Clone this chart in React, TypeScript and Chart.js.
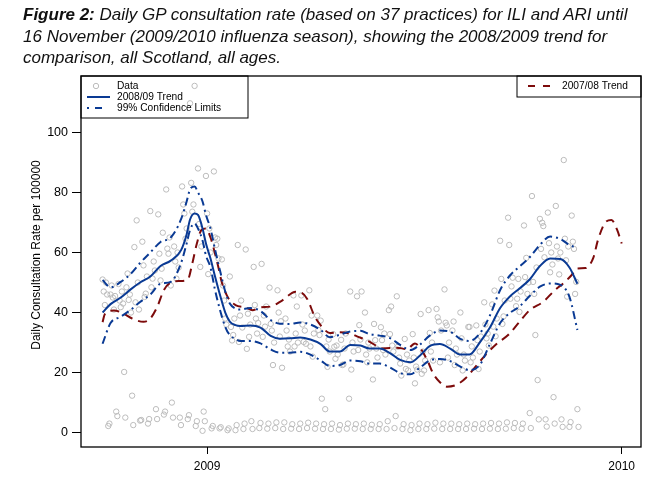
import React, { useEffect, useRef } from 'react';
import { Chart, registerables } from 'chart.js';

Chart.register(...registerables);

const SANS = '"Liberation Sans", Arial, Helvetica, sans-serif';
const BLUE = '#0a3a94';
const RED = '#7d0b0b';
const GREY = '#bcbcbc';

// day numbers count from 1 January 2009
const firstDataDay = -92;

// daily GP consultation rate per 100000, one row per week (5 weekdays, then the weekend pair)
const weeklyRates: number[][] = [
    [51, 47, 42.5, 50, 46, 2.2, 3],
    [46, 49, 45, 41, 45.5, 7, 5.5],
    [49.5, 44, 41.8, 47, 43, 20.2, 5],
    [48.4, 53, 44.2, 46, 40, 12.3, 2.5],
    [61.8, 43.4, 70.7, 50, 41, 4, 4.2],
    [63.6, 55.7, 45.2, 46.3, 52, 3, 4.5],
    [73.8, 48.4, 51.3, 57, 54, 7.8, 4.5],
    [72.7, 59.6, 50.7, 54.6, 66.6, 6, 7],
    [81, 61.3, 59.6, 65, 49, 10, 5],
    [62, 57, 51.3, 60, 55, 5, 2.5],
    [82, 76, 73, 64.6, 68, 4.5, 5.8],
    [109.7, 83.2, 73.6, 76, 115.5, 2.2, 3.8],
    [88, 69.5, 55.2, 62, 0.6, 7, 3.8],
    [85.5, 73, 52.8, 68, 60, 1.4, 2.2],
    [87, 65, 62.5, 64.6, 58, 1.4, 1.8],
    [57.7, 49, 44, 38, 36, 0.8, 1.4],
    [52, 35.2, 30.7, 32.5, 38, 0.8, 2.5],
    [62.5, 30.2, 39, 44, 35, 1.2, 3],
    [61, 27.9, 39.6, 31.9, 36, 3.8, 1.2],
    [55.2, 42.5, 38, 33, 36.5, 1.5, 3.2],
    [56.2, 31.9, 39, 35.3, 42, 1.3, 3],
    [48.3, 36.2, 34, 22.5, 30, 1.5, 3.4],
    [47.4, 40, 32, 37.1, 21.6, 1.2, 3.4],
    [38, 34, 28.7, 31, 27, 1.3, 2.8],
    [45.7, 28.7, 33, 42, 30, 1.2, 3],
    [45.7, 36, 30.2, 34, 29.6, 1.5, 3.3],
    [47.4, 28.7, 39, 25.3, 33, 1.3, 3],
    [39, 34.2, 32.5, 37.3, 11.3, 1.2, 2.8],
    [7.8, 28.7, 21.9, 31, 27, 1.2, 3],
    [32.8, 28.6, 24.6, 29, 26, 1, 2.5],
    [30.9, 22.5, 22.7, 28, 33, 1.3, 3],
    [11.3, 47, 21, 30, 27, 1.3, 2.8],
    [45.4, 27.5, 35.8, 31, 47, 1.2, 3],
    [40, 26, 23.4, 30, 28, 1.2, 2.6],
    [17.7, 36.2, 30.8, 28, 25, 1.2, 2.8],
    [35.1, 30.8, 27.5, 33, 26, 1.2, 3.8],
    [40.8, 32.8, 42, 29, 27, 1.5, 5.5],
    [45.4, 28.6, 25, 23, 19, 1.2, 2.8],
    [31.2, 21.2, 26, 20.7, 24, 0.8, 2.5],
    [32.8, 25, 16.4, 22, 21, 1.2, 3],
    [39.5, 19.6, 27, 20.7, 24, 1.2, 2.8],
    [40.8, 33.2, 27, 30, 24, 1.3, 3.3],
    [41.2, 38.4, 37, 23.4, 34, 1.2, 3],
    [47.7, 36.6, 35.7, 25, 30, 1.2, 3],
    [34, 37, 22.5, 28, 26, 1.2, 2.8],
    [40, 31.4, 20.7, 26, 24, 1.2, 3],
    [35.2, 35.2, 23.4, 28.7, 25, 1.3, 2.8],
    [35.7, 30.8, 21.2, 27, 32, 1.2, 3],
    [43.4, 36, 31.4, 33, 29, 1.3, 3.2],
    [42.7, 35.3, 47.3, 32.1, 38, 1.2, 3],
    [63.9, 51.2, 36.2, 38.7, 44, 1.3, 3.4],
    [71.6, 62.5, 44.6, 48.7, 51.6, 1.5, 3.2],
    [42.1, 44.6, 51.2, 40.2, 47, 1.3, 3],
    [69, 51.8, 58.2, 46.2, 50, 6.5, 1.5],
    [78.8, 50.2, 46.2, 32.5, 55, 17.5, 4.4],
    [71.2, 61.2, 69.9, 68.8, 58.4, 4.4, 2],
    [73.3, 63.1, 53.4, 60, 56, 11.8, 3],
    [75.5, 62, 58, 52.7, 60, 4.4, 1.9],
    [90.8, 64.6, 57.4, 45.3, 62, 1.9, 3.5],
    [72.3, 63.6, 61.2, 46.2, 50.2, 7.8, 1.9],
];

// 2008/09 smoothed trend and its 99% confidence limits
const trendDays = [
    -92, -85, -76, -67, -59, -50, -41, -32, -23, -18, -15, -11, -8, -4, -1, 3, 7, 12, 16, 20,
    25, 29, 38, 47, 56, 64, 73, 82, 91, 100, 108, 117, 126, 135, 143, 152, 161, 170, 179, 187,
    196, 205, 214, 223, 231, 240, 249, 258, 267, 275, 284, 293, 302, 311, 319, 326,
];
const trend0809 = [
    40, 42.8, 45, 47.8, 50, 52, 55.5, 57.3, 60.7, 66, 71, 73, 72.5, 68, 63, 58, 52, 45, 40, 37,
    35.8, 35.5, 35.7, 35, 32.2, 31.3, 31.4, 31.7, 31, 29.5, 27, 27, 29.2, 29, 28, 28, 26.5, 24.2, 23.4, 25.5,
    28.8, 29.5, 28, 26, 26, 30, 35, 41.5, 45.5, 48, 51, 55.5, 58, 57.8, 55, 49.6,
];
const upperLimit = [
    50.8, 48.4, 50.2, 53, 56.5, 60, 63.5, 65, 71, 77, 81, 82, 80, 77, 72.5, 68, 61, 53, 47, 43,
    41.3, 41, 41.5, 40.5, 37.5, 36.3, 36.2, 36.7, 36, 34.2, 31.8, 32.6, 33.7, 33.9, 32.8, 32.3, 31.5, 29.2, 27.5, 29.2,
    32.3, 34, 33.6, 31.2, 30.5, 33, 39, 47.5, 52.5, 55.3, 58.4, 62.5, 65.3, 64.5, 62.5, 61.5,
];
const lowerLimit = [
    29.6, 36.5, 38.6, 41, 43.5, 46, 49.6, 50.2, 56.4, 63, 67.5, 69.7, 68, 64, 59, 55, 47.5, 40, 35.2, 32.5,
    31.2, 30.5, 30.5, 29.7, 27.7, 26.6, 26.6, 26.9, 26, 24, 22.2, 22.5, 24, 23.8, 23, 23, 21.7, 19.8, 19.4, 21.5,
    24, 24.5, 23.8, 22, 20.8, 22.5, 29.5, 36.5, 40, 42, 45.5, 48.6, 49.7, 49.2, 45.2, 34.2,
];

// 2007/08 trend, for comparison
const trend0708Days = [
    -92, -90, -82, -74, -66, -56, -50, -44, -38, -32, -24, -17, -13, -9, -5, -1, 3, 7, 10, 13,
    19, 25, 34, 40, 47, 56, 66, 78, 83, 88, 95, 101, 108, 117, 126, 133, 142, 155, 167, 176,
    183, 187, 194, 199, 205, 211, 220, 228, 236, 245, 255, 265, 275, 284, 296, 306, 315, 321, 326, 333,
    340, 344, 350, 356, 361, 365,
];
const trend0708 = [
    36.8, 39.5, 40.7, 39.7, 38, 36.9, 38, 41.8, 47.5, 50, 50.5, 51, 56.4, 63, 67.5, 68, 65, 59.6, 55, 50,
    44.6, 42.5, 41.7, 40.8, 41.7, 42, 44, 46.9, 46.6, 44.6, 38.5, 35.3, 33.2, 33.4, 33, 31.9, 30.5, 28, 28.3, 27.8,
    29.7, 28.5, 24, 19.7, 16.8, 15.3, 16, 18.3, 21.8, 25.8, 29.6, 32.5, 36.9, 40.8, 43.6, 47.4, 50.2, 52.5, 54.7, 54.8,
    58.2, 64, 69.7, 70.8, 67.5, 63,
];

const yTicks = [0, 20, 40, 60, 80, 100];
const xTickDays = [0, 365];
const xTickLabels = ['2009', '2010'];

const yTitle = 'Daily Consultation Rate per 100000';
const legendLeft = ['Data', '2008/09 Trend', '99% Confidence Limits'];
const legendRight = '2007/08 Trend';

const toPoints = (days: number[], values: number[]) => days.map((d, i) => ({ x: d, y: values[i] }));

const framePlugin = {
    id: 'frameAndLegends',
    afterDraw(chart: any) {
        const { ctx, chartArea: a } = chart;
        ctx.save();
        // plot box
        ctx.strokeStyle = '#000';
        ctx.lineWidth = 1.3;
        ctx.strokeRect(a.left, a.top, a.right - a.left, a.bottom - a.top);

        // y axis title
        ctx.fillStyle = '#000';
        ctx.font = `12px ${SANS}`;
        ctx.textAlign = 'center';
        ctx.textBaseline = 'middle';
        ctx.save();
        ctx.translate(37, 255);
        ctx.rotate(-Math.PI / 2);
        ctx.fillText(yTitle, 0, 0);
        ctx.restore();

        // left legend
        ctx.lineWidth = 1;
        ctx.strokeRect(a.left, a.top, 167, 42);
        ctx.font = `10.2px ${SANS}`;
        ctx.textAlign = 'left';
        const rows = [a.top + 10, a.top + 21, a.top + 32];
        ctx.strokeStyle = GREY;
        ctx.beginPath();
        ctx.arc(a.left + 15, rows[0], 2.7, 0, Math.PI * 2);
        ctx.stroke();
        ctx.strokeStyle = BLUE;
        ctx.lineWidth = 2;
        ctx.beginPath();
        ctx.moveTo(a.left + 6, rows[1]);
        ctx.lineTo(a.left + 29, rows[1]);
        ctx.stroke();
        ctx.beginPath();
        ctx.moveTo(a.left + 6, rows[2]);
        ctx.lineTo(a.left + 8, rows[2]);
        ctx.moveTo(a.left + 14, rows[2]);
        ctx.lineTo(a.left + 21, rows[2]);
        ctx.stroke();
        ctx.fillStyle = '#000';
        legendLeft.forEach((t, i) => ctx.fillText(t, a.left + 36, rows[i]));

        // right legend
        ctx.strokeStyle = '#000';
        ctx.lineWidth = 1;
        ctx.strokeRect(517, a.top, a.right - 517, 21);
        ctx.strokeStyle = RED;
        ctx.lineWidth = 2;
        ctx.beginPath();
        ctx.moveTo(528, a.top + 10);
        ctx.lineTo(535, a.top + 10);
        ctx.moveTo(543, a.top + 10);
        ctx.lineTo(550, a.top + 10);
        ctx.stroke();
        ctx.fillText(legendRight, 562, a.top + 10);
        ctx.restore();
    },
};

const App: React.FC = () => {
    const canvasRef = useRef<HTMLCanvasElement>(null);

    useEffect(() => {
        document.body.style.margin = '0';
        if (canvasRef.current) {
            const ctx = canvasRef.current.getContext('2d');
            if (ctx) {
                const dailyPoints = weeklyRates.flat().map((v, i) => ({ x: firstDataDay + i, y: v }));
                const lineStyle = {
                    showLine: true,
                    pointRadius: 0,
                    fill: false,
                    borderWidth: 2,
                    borderCapStyle: 'butt' as const,
                    cubicInterpolationMode: 'monotone' as const,
                };
                const chart = new Chart(ctx, {
                    type: 'scatter',
                    data: {
                        datasets: [
                            {
                                label: 'Data',
                                data: dailyPoints,
                                pointRadius: 2.7,
                                pointBorderWidth: 1,
                                borderColor: GREY,
                                backgroundColor: 'rgba(0,0,0,0)',
                                order: 4,
                            },
                            {
                                label: '2007/08 Trend',
                                data: toPoints(trend0708Days, trend0708),
                                borderColor: RED,
                                borderDash: [9, 6],
                                order: 3,
                                ...lineStyle,
                            },
                            {
                                label: '99% Confidence Limits',
                                data: toPoints(trendDays, upperLimit),
                                borderColor: BLUE,
                                borderDash: [8, 4, 2, 4],
                                order: 2,
                                ...lineStyle,
                            },
                            {
                                label: '99% Confidence Limits (lower)',
                                data: toPoints(trendDays, lowerLimit),
                                borderColor: BLUE,
                                borderDash: [8, 4, 2, 4],
                                order: 2,
                                ...lineStyle,
                            },
                            {
                                label: '2008/09 Trend',
                                data: toPoints(trendDays, trend0809),
                                borderColor: BLUE,
                                order: 1,
                                ...lineStyle,
                            },
                        ],
                    },
                    options: {
                        responsive: false,
                        animation: false,
                        layout: { padding: { left: 0, right: 9, top: 76, bottom: 0 } },
                        plugins: {
                            legend: { display: false },
                            tooltip: { enabled: false },
                        },
                        scales: {
                            x: {
                                type: 'linear',
                                min: -111,
                                max: 382,
                                afterBuildTicks: (axis: any) => {
                                    axis.ticks = xTickDays.map((v) => ({ value: v }));
                                },
                                afterFit: (axis: any) => {
                                    axis.height = 32;
                                },
                                grid: {
                                    drawOnChartArea: false,
                                    tickLength: 7,
                                    tickColor: '#000',
                                    tickWidth: 1,
                                },
                                border: { display: false },
                                ticks: {
                                    autoSkip: false,
                                    maxRotation: 0,
                                    padding: 5,
                                    color: '#000',
                                    font: { family: SANS, size: 12 },
                                    callback: (v: any) => xTickLabels[xTickDays.indexOf(Number(v))],
                                },
                            },
                            y: {
                                type: 'linear',
                                min: -4.8,
                                max: 118.8,
                                afterBuildTicks: (axis: any) => {
                                    axis.ticks = yTicks.map((v) => ({ value: v }));
                                },
                                afterFit: (axis: any) => {
                                    axis.width = 81;
                                },
                                grid: {
                                    drawOnChartArea: false,
                                    tickLength: 9,
                                    tickColor: '#000',
                                    tickWidth: 1,
                                },
                                border: { display: false },
                                ticks: {
                                    padding: 4,
                                    color: '#000',
                                    font: { family: SANS, size: 12.5 },
                                },
                            },
                        },
                    },
                    plugins: [framePlugin],
                });

                return () => {
                    chart.destroy();
                };
            }
        }
    }, []);

    return (
        <div style={{ position: 'relative', width: 650, height: 479, background: '#fff' }}>
            <canvas ref={canvasRef} width={650} height={479} style={{ display: 'block' }} />
            <div
                style={{
                    position: 'absolute',
                    left: 23,
                    top: 4,
                    fontFamily: SANS,
                    fontStyle: 'italic',
                    fontSize: 17,
                    lineHeight: '21.5px',
                    color: '#111',
                    whiteSpace: 'nowrap',
                }}
            >
                <b>Figure 2:</b> Daily GP consultation rate (based on 37 practices) for ILI and ARI until
                <br />
                16 November (2009/2010 influenza season), showing the 2008/2009 trend for
                <br />
                comparison, all Scotland, all ages.
            </div>
        </div>
    );
};

export default App;
